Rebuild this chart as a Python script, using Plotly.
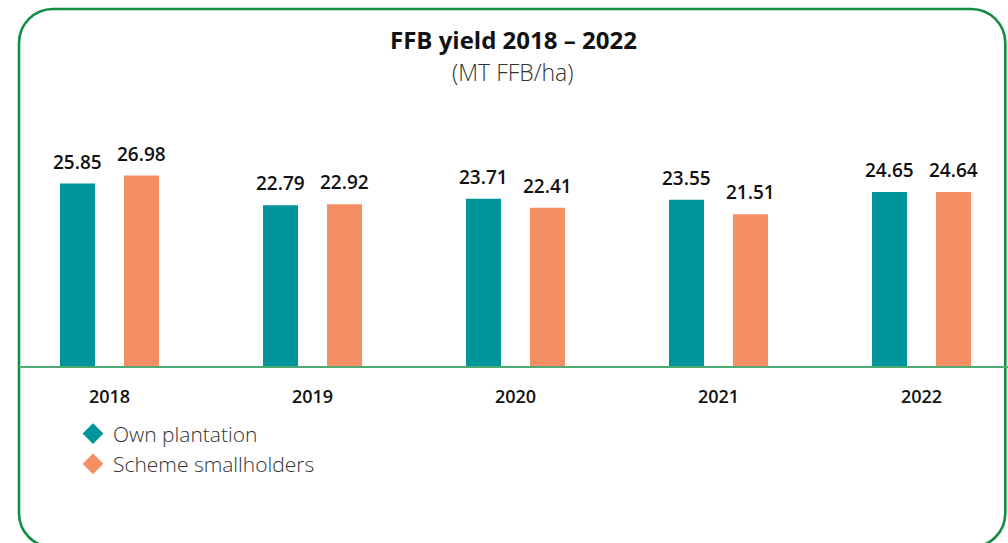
import plotly.graph_objects as go

years = ["2018", "2019", "2020", "2021", "2022"]
own_plantation = [25.85, 22.79, 23.71, 23.55, 24.65]
scheme_smallholders = [26.98, 22.92, 22.41, 21.51, 24.64]
series_names = ["Own plantation", "Scheme smallholders"]
title_text = "FFB yield 2018 – 2022"
subtitle_text = "(MT FFB/ha)"

TEAL = "#00959a"
ORANGE = "#f58f63"
W, H = 1008, 543
ML, MR = 19, 0
MT = 100
BASE = 366.5
MB = H - BASE
PW, PH = W - ML - MR, BASE - MT
GROUP = 203.0  # px per category
cat0_px = 109.5
r0 = -(cat0_px - ML) / GROUP
r1 = r0 + PW / GROUP
bw = 35 / GROUP
off = 32 / GROUP
font = "Open Sans"

fig = go.Figure()
for vals, col, o, sh in [(own_plantation, TEAL, -off - bw / 2, -32),
                         (scheme_smallholders, ORANGE, off - bw / 2, 32)]:
    fig.add_trace(go.Bar(
        x=years, y=vals, marker=dict(color=col, line=dict(width=0)),
        width=bw, offset=o, showlegend=False, hoverinfo="skip",
    ))
    for i, v in enumerate(vals):
        fig.add_annotation(x=i, y=v, xref="x", yref="y", text=f"{v:.2f}",
                           showarrow=False, xanchor="center", yanchor="bottom",
                           xshift=sh, yshift=7,
                           font=dict(family=font, size=19, color="#111111", weight=600))
for name, col in zip(series_names, [TEAL, ORANGE]):
    fig.add_trace(go.Scatter(
        x=[None], y=[None], mode="markers", name=name,
        marker=dict(symbol="diamond", size=20, color=col),
    ))

def px2paper(px, py):
    return (px - ML) / PW, (BASE - py) / PH

def border_path(x0, y0, x1, y1, r):
    pts = []
    k = 0.5523
    segs = [
        ("M", [(x0 + r, y0)]),
        ("L", [(x1 - r, y0)]),
        ("C", [(x1 - r + k * r, y0), (x1, y0 + r - k * r), (x1, y0 + r)]),
        ("L", [(x1, y1 - r)]),
        ("C", [(x1, y1 - r + k * r), (x1 - r + k * r, y1), (x1 - r, y1)]),
        ("L", [(x0 + r, y1)]),
        ("C", [(x0 + r - k * r, y1), (x0, y1 - r + k * r), (x0, y1 - r)]),
        ("L", [(x0, y0 + r)]),
        ("C", [(x0, y0 + r - k * r), (x0 + r - k * r, y0), (x0 + r, y0)]),
    ]
    for cmd, ps in segs:
        coords = " ".join("%.5f,%.5f" % px2paper(a, b) for a, b in ps)
        pts.append(cmd + coords)
    return " ".join(pts) + " Z"

fig.add_shape(type="path", xref="paper", yref="paper",
              path=border_path(19, 8.8, 1005.3, 548, 34),
              line=dict(color="#138d3f", width=2.6), layer="below")

tx, ty = px2paper(513, 39)
fig.add_annotation(text="<b>" + title_text + "</b>", x=tx, y=ty, xref="paper", yref="paper",
                   showarrow=False, xanchor="center", yanchor="middle",
                   font=dict(family=font, size=24, color="#111111"))
sx, sy = px2paper(513, 72)
fig.add_annotation(text=subtitle_text, x=sx, y=sy, xref="paper", yref="paper",
                   showarrow=False, xanchor="center", yanchor="middle",
                   font=dict(family=font, size=23, color="#333333", weight=300))

lx, ly = px2paper(73, 414)
fig.update_layout(
    width=W, height=H,
    margin=dict(l=ML, r=MR, t=MT, b=MB, pad=0),
    paper_bgcolor="white", plot_bgcolor="white",
    xaxis=dict(type="category", range=[r0, r1], showgrid=False, zeroline=False,
               showline=True, linecolor="#4caa72", linewidth=1.5,
               ticks="", ticklabelstandoff=14,
               tickfont=dict(family=font, size=18, color="#111111", weight=600)),
    yaxis=dict(range=[0, PH / 7.07], visible=False),
    legend=dict(x=lx, y=ly, xanchor="left", yanchor="top",
                font=dict(family=font, size=21, color="#333333", weight=300),
                bgcolor="rgba(0,0,0,0)", itemwidth=30, tracegroupgap=0),
    showlegend=True,
)
fig.write_html("out.html", config={"displayModeBar": False},
               post_script="document.body.style.margin='0';"
                           "document.documentElement.style.overflow='hidden';")
